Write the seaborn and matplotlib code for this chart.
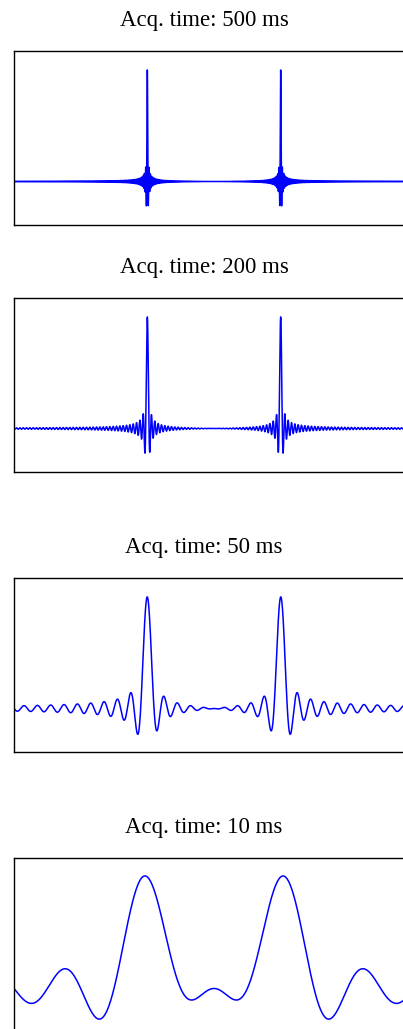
import numpy as np
import pandas as pd
import matplotlib
matplotlib.use("Agg")
import matplotlib.pyplot as plt
import seaborn as sns

# acquisition times of the truncated FIDs (ms) and the two line positions (Hz)
acq_times_ms = [500, 200, 50, 10]
peak_freqs_hz = [-200, 200]
freq_range_hz = [-600, 600]
titles = [f"Acq. time: {t} ms" for t in acq_times_ms]

# layout in pixels of the 403x1029 figure
FIG_W, FIG_H = 403, 1029
axes_top_px = [51, 298, 578, 858]
axes_h_px = 174
axes_left_px = 14
axes_w_px = 400
title_base_px = [26, 273, 553, 833]


def spectrum(freq, t_acq):
    # real part of the FT of an undamped FID cut off at t_acq -> sum of sincs
    y = np.zeros_like(freq)
    for f0 in peak_freqs_hz:
        y += np.sinc((freq - f0) * t_acq)
    return y


def main():
    sns.set_style("white")
    plt.rcParams['font.family'] = ['Liberation Serif', 'DejaVu Serif']

    fig = plt.figure(figsize=(FIG_W / 100, FIG_H / 100), dpi=100)
    freq = np.linspace(freq_range_hz[0], freq_range_hz[1], 60001)

    for i, t in enumerate(acq_times_ms):
        left = axes_left_px / FIG_W
        bottom = 1 - (axes_top_px[i] + axes_h_px) / FIG_H
        ax = fig.add_axes([left, bottom, axes_w_px / FIG_W, axes_h_px / FIG_H])
        df = pd.DataFrame({'freq': freq, 'signal': spectrum(freq, t / 1000)})
        sns.lineplot(data=df, x='freq', y='signal', ax=ax, color='#0000ff',
                     linewidth=1.1, estimator=None, sort=False)
        ax.set_xlim(freq_range_hz)
        ax.set_ylim(-0.39, 1.17)
        ax.set_xticks([])
        ax.set_yticks([])
        ax.set_xlabel('')
        ax.set_ylabel('')
        for sp in ax.spines.values():
            sp.set_color('black')
            sp.set_linewidth(1.0)
        fig.text(204 / FIG_W, 1 - title_base_px[i] / FIG_H, titles[i],
                 ha='center', va='baseline', fontsize=16.5, color='black')

    fig.savefig('out.png', dpi=100)


if __name__ == "__main__":
    main()
